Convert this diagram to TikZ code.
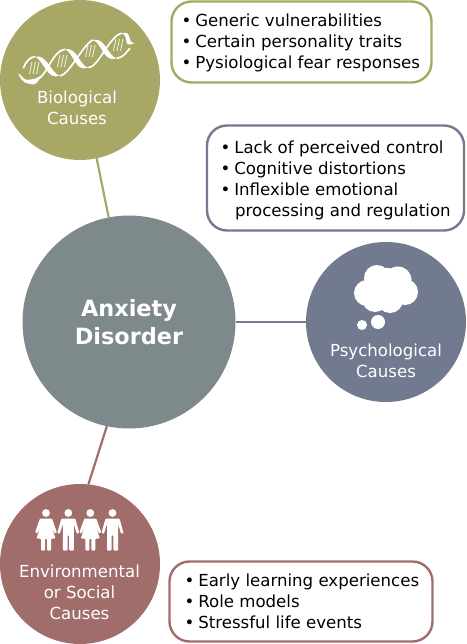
\documentclass[tikz,border=0pt]{standalone}
\usepackage{fontspec}
\setmainfont{DejaVu Sans}
\usetikzlibrary{positioning}
\definecolor{bioCol}{HTML}{A7A866}
\definecolor{psyCol}{HTML}{727A90}
\definecolor{envCol}{HTML}{A06D6B}
\definecolor{mainCol}{HTML}{7E898B}
\tikzset{cause/.style={circle, fill=#1, draw=none, inner sep=0pt, outer sep=0pt, minimum size=160pt},
    causetext/.style={text=white, align=center, inner sep=0pt, font=\fontsize{16.6}{21}\selectfont},
    notebox/.style={draw=#1, line width=2.4pt, fill=white, rounded corners=20pt, inner sep=0pt, outer sep=0pt},
    notetext/.style={text=black, align=left, anchor=west, inner sep=0pt, font=\fontsize{16.6}{21}\selectfont},
    link/.style={line width=2.2pt, color=#1},
    iconpart/.style={fill=white, draw=none}}
\newcommand{\itm}[1]{\makebox[13.6pt][l]{\textbullet}#1}
\newcommand{\manfig}[1]{%
    \fill[iconpart] (#1,513) circle (3.9);
    \fill[iconpart, rounded corners=1pt, shift={(#1,513)}] (-7,5.5) -- (7,5.5) -- (11,20) -- (8.7,21) -- (5.5,11) -- (5.5,37.5) -- (0.8,37.5) -- (0.8,22)
        -- (-0.8,22) -- (-0.8,37.5) -- (-5.5,37.5) -- (-5.5,11) -- (-8.7,21) -- (-11,20) -- cycle;}
\newcommand{\womanfig}[1]{%
    \fill[iconpart] (#1,513) circle (3.9);
    \fill[iconpart, rounded corners=1pt, shift={(#1,513)}] (-6,5.5) -- (6,5.5) -- (11,19.5) -- (8.7,20.5) -- (4.5,10) -- (9.5,25.5) -- (5,25.5) -- (5,37.5) -- (1,37.5) -- (1,25.5)
        -- (-1,25.5) -- (-1,37.5) -- (-5,37.5) -- (-5,25.5) -- (-9.5,25.5) -- (-4.5,10) -- (-8.7,20.5) -- (-11,19.5) -- cycle;}
\begin{document}
\begin{tikzpicture}[x=1pt, y=-1pt]
    \useasboundingbox (0,0) rectangle (466,644);

    \node [cause=bioCol] (bioCircle) at (80,80) {};
    \node [cause=psyCol] (psyCircle) at (386,322) {};
    \node [cause=envCol] (envCircle) at (80,564) {};
    \node [cause=mainCol, minimum size=213pt] (mainCircle) at (129,322) {};

    \draw[link=bioCol] (bioCircle.-78) -- (mainCircle.101);
    \draw[link=psyCol] (mainCircle.0) -- (psyCircle.180);
    \draw[link=envCol] (envCircle.84) -- (mainCircle.258);

    \node [text=white, align=center, inner sep=0pt, font=\fontsize{22.4}{28}\selectfont\bfseries] (mainLabel) at (129,322) {Anxiety\\Disorder};
    \node [causetext] (bioLabel) at (77,108) {Biological\\Causes};
    \node [causetext] (psyLabel) at (386,361) {Psychological\\Causes};
    \node [causetext] (envLabel) at (79.5,592) {Environmental\\or Social\\Causes};

    \node [notebox=bioCol, minimum width=260pt, minimum height=81pt] (bioBox) at (301.5,42) {};
    \node [notebox=psyCol, minimum width=257pt, minimum height=105pt] (psyBox) at (335.5,178) {};
    \node [notebox=envCol, minimum width=263pt, minimum height=80pt] (envBox) at (301,601.5) {};

    \node [notetext] (bioText) at (181.5,42.5)
        {\itm{Generic vulnerabilities}\\\itm{Certain personality traits}\\\itm{Pysiological fear responses}};
    \node [notetext] (psyText) at (220.5,180.5)
        {\itm{Lack of perceived control}\\\itm{Cognitive distortions}\\\itm{Inflexible emotional}\\\hspace*{14.4pt}processing and regulation};
    \node [notetext] (envText) at (184.5,601.5)
        {\itm{Early learning experiences}\\\itm{Role models}\\\itm{Stressful life events}};

    % dna
    \foreach \xa/\ya/\xb/\yb in {35/56.7/60/75.7, 65/49.3/88.3/67.7, 93.3/40/116.7/58.3, 121.7/33.3/134.3/43.3}
        \fill[iconpart] (\xa,\ya) .. controls +(12,-3) and +(-9,-2) .. (\xb,\yb) .. controls +(-13,5) and +(9,4) .. (\xa,\ya);
    \fill[iconpart] (18.5,73) .. controls +(4,4) and +(-5,2) .. (30,79.5) .. controls +(5,0) and +(-3,2) .. (42,75)
        .. controls +(-4,6) and +(7,2) .. (30,84) .. controls +(-7,0) and +(0,3) .. (18.5,73);
    \draw[white, line width=1.7pt] (23.3,68.3) .. controls +(2,-6) and +(-5,0) .. (35,56.7);
    \draw[white, line width=1.7pt] (60,75.7) .. controls +(9,0) and +(-9,2) .. (93.3,40);
    \draw[white, line width=1.7pt] (116.7,58.3) .. controls +(6,0) and +(-3,3) .. (130,48.3);
    \draw[white, line width=1.7pt] (38,79) .. controls +(9,-4) and +(-12,1) .. (65,49.3);
    \draw[white, line width=1.7pt] (88.3,67.7) .. controls +(10,0) and +(-12,2) .. (121.7,33.3);
    \foreach \xs/\ys in {32/62, 60/55, 88/45, 116/39}
        \foreach \i in {0,3.5,7}
            \draw[white, opacity=.8, line width=0.9pt] (\xs+\i,\ys) -- (\xs+\i-2.5,\ys+12);

    % cloud
    \foreach \cx/\cy/\rr in {377/278/13, 398/280/13.5, 367/293/13, 405/292/13, 390/300/13, 375/299/13, 387/288/20, 378/322/7, 362/325/5}
        \fill[iconpart] (\cx,\cy) circle (\rr);

    % people
    \womanfig{46}
    \manfig{68.3}
    \womanfig{90.3}
    \manfig{112.5}
\end{tikzpicture}
\end{document}
